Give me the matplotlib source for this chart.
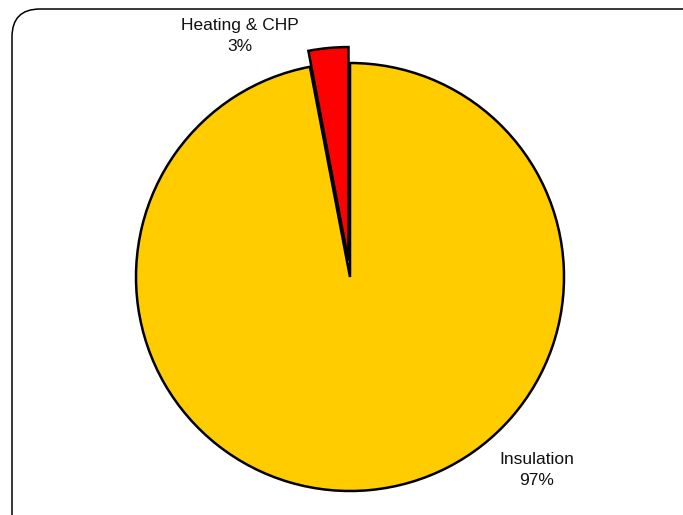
import matplotlib
matplotlib.use("Agg")
import matplotlib.pyplot as plt
from matplotlib.patches import FancyBboxPatch

labels = ["Insulation", "Heating & CHP"]
shares = [97, 3]
colors = ["#FFCC00", "#FF0000"]

W, H = 683, 515
fig = plt.figure(figsize=(W / 100, H / 100), dpi=100)
ax = fig.add_axes([0, 0, 1, 1])
ax.set_xlim(0, W)
ax.set_ylim(0, H)
ax.axis("off")

# rounded frame, running off the right and bottom edges
frame = FancyBboxPatch((12, -30), 700, H - 9 + 30,
                       boxstyle="round,pad=0,rounding_size=28",
                       transform=ax.transData, fill=False,
                       edgecolor="black", linewidth=1.1, clip_on=False)
ax.add_patch(frame)

# explode offset is in data units (pixels here)
cx, cy, r = 350, H - 277, 214
ax.pie(shares, colors=colors, explode=[0, 16], startangle=90,
       counterclock=False, center=(cx, cy), radius=r,
       wedgeprops=dict(edgecolor="black", linewidth=1.8))
ax.set_xlim(0, W)
ax.set_ylim(0, H)
ax.set_aspect("equal")

font = dict(family="Liberation Sans", fontsize=12.5, ha="center", va="center",
            linespacing=1.45, color="#111111")
ax.text(240, H - 36, f"{labels[1]}\n{shares[1]}%", **font)
ax.text(537, H - 470, f"{labels[0]}\n{shares[0]}%", **font)

fig.savefig("out.png", dpi=100)
